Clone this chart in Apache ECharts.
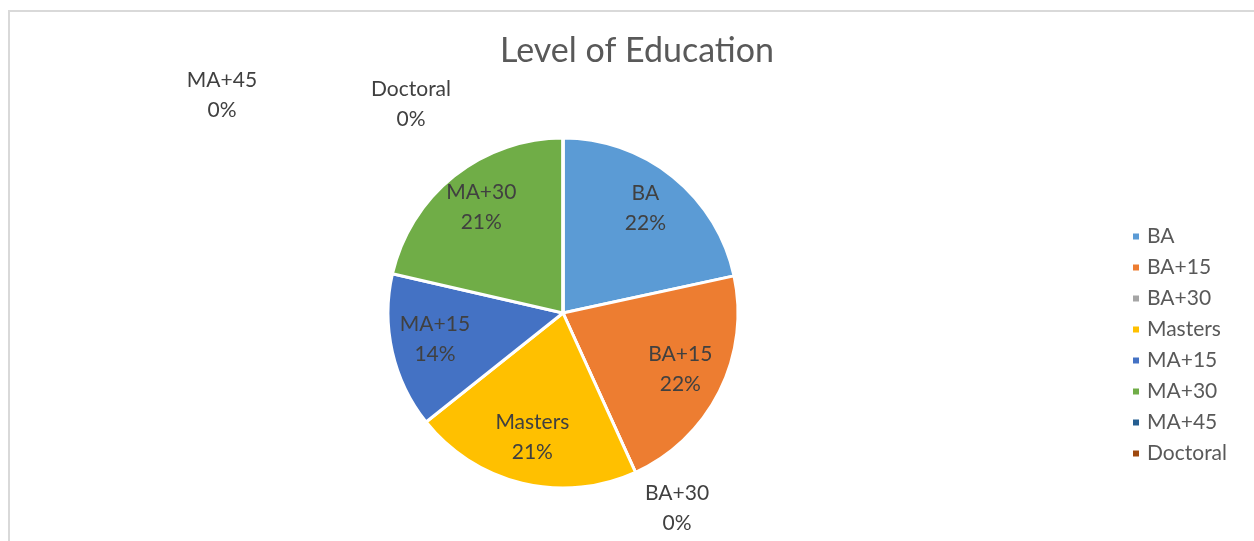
<!DOCTYPE html>
<html>
<head>
<meta charset="utf-8">
<title>Level of Education</title>
<script src="https://cdn.jsdelivr.net/npm/echarts@6/dist/echarts.min.js"></script>
<style>
  html, body { margin: 0; padding: 0; background: #fff; }
  #chart { width: 1254px; height: 541px; }
  /* chart area frame, cut off by the window on the right and bottom */
  #frame {
    position: absolute; left: 8px; top: 10px; width: 1400px; height: 700px;
    border-top: 2px solid #d9d9d9; border-left: 2px solid #d9d9d9;
    pointer-events: none;
  }
</style>
</head>
<body>
<div id="chart"></div>
<div id="frame"></div>
<script>
const categories = ['BA', 'BA+15', 'BA+30', 'Masters', 'MA+15', 'MA+30', 'MA+45', 'Doctoral'];
const shares = [21.6, 21.6, 0, 21.1, 14.3, 21.4, 0, 0];
const colors = ['#5B9BD5', '#ED7D31', '#A5A5A5', '#FFC000', '#4472C4', '#70AD47', '#255E91', '#9E480E'];

const CENTER = [563, 313];
const RADIUS = 175;
const LABEL_R = 0.75; // labels sit ~3/4 of the way out
// Excel pushed the empty slices' labels off to the side
const zeroLabelPos = { 'BA+30': [677, 508], 'MA+45': [222, 95], 'Doctoral': [411, 104] };

const total = shares.reduce((a, b) => a + b, 0);
const midAngles = [];
let acc = 0;
shares.forEach(v => {
  midAngles.push((acc + v / 2) / total * Math.PI * 2);
  acc += v;
});

const chart = echarts.init(document.getElementById('chart'), null, { renderer: 'canvas' });

const option = {
  animation: false,
  title: {
    text: 'Level of Education',
    left: 637,
    top: 34,
    padding: 0,
    textAlign: 'center',
    textStyle: { fontFamily: 'Lato', fontSize: 34, fontWeight: 'normal', color: '#595959' }
  },
  legend: {
    orient: 'vertical',
    left: 1131,
    top: 226,
    padding: 0,
    itemWidth: 8,
    itemHeight: 8,
    itemGap: 10,
    icon: 'rect',
    selectedMode: false,
    textStyle: { fontFamily: 'Lato', fontSize: 21, color: '#595959', lineHeight: 20, padding: [0, 0, 0, 2] },
    data: categories
  },
  series: [{
    type: 'pie',
    center: CENTER,
    radius: RADIUS,
    startAngle: 90,
    clockwise: true,
    silent: true,
    emphasis: { disabled: true },
    itemStyle: { borderColor: '#fff', borderWidth: 3 },
    label: {
      show: true,
      position: 'inside',
      fontFamily: 'Lato',
      fontSize: 21,
      lineHeight: 30,
      color: '#404040',
      formatter: p => p.name + '\n' + Math.round(p.percent) + '%'
    },
    labelLine: { show: false },
    labelLayout: params => {
      const i = params.dataIndex;
      const name = categories[i];
      if (zeroLabelPos[name]) {
        return { x: zeroLabelPos[name][0], y: zeroLabelPos[name][1], align: 'center', verticalAlign: 'middle' };
      }
      const a = midAngles[i];
      return {
        x: CENTER[0] + RADIUS * LABEL_R * Math.sin(a),
        y: CENTER[1] - RADIUS * LABEL_R * Math.cos(a) - 3,
        align: 'center',
        verticalAlign: 'middle'
      };
    },
    data: categories.map((name, i) => ({
      name,
      value: shares[i],
      itemStyle: { color: colors[i] }
    }))
  }]
};

chart.setOption(option);
window.addEventListener('resize', () => chart.resize());
</script>
</body>
</html>
